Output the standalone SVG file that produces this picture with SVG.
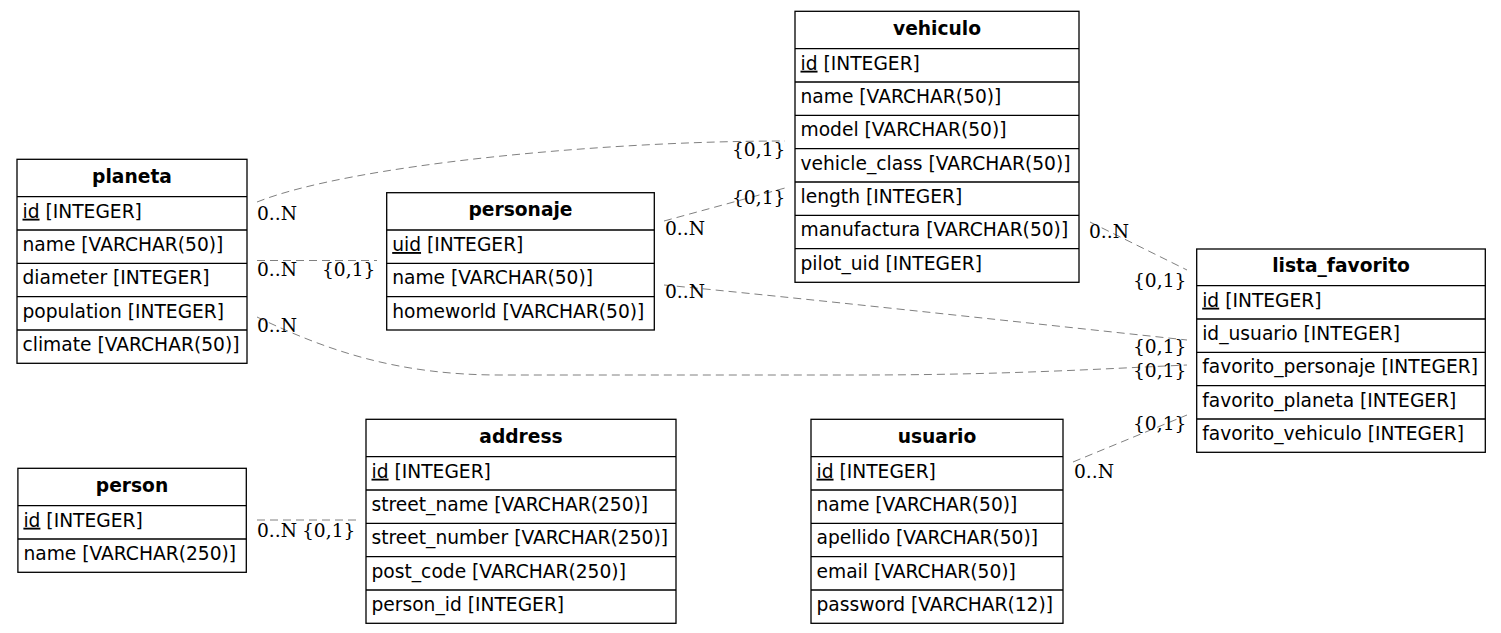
<svg xmlns="http://www.w3.org/2000/svg" width="1501" height="633" viewBox="0 0 1501 633">
<style>
.box{fill:#fff;stroke:#000;stroke-width:1.3}
.sep{stroke:#000;stroke-width:1.3}
.t{font-family:"DejaVu Sans",sans-serif;font-size:18.67px;fill:#000}
.h{font-weight:bold;text-anchor:middle}
.pk{text-decoration:underline}
.e{fill:none;stroke:#808080;stroke-width:1;stroke-dasharray:8,5}
.l{font-family:"DejaVu Serif",serif;font-size:18.67px;fill:#000}
</style>
<rect width="1501" height="633" fill="#fff"/>
<g id="connectors">
<path class="e" d="M257,202 C350,165 600,141 785,141"/>
<path class="e" d="M257,260.5 L377,260.5"/>
<path class="e" d="M257,317 C330,352 400,375 500,375 L860,375 C1000,375 1100,369 1187,365"/>
<path class="e" d="M664,221 L785,188"/>
<path class="e" d="M664,285 C800,298 1000,320 1187,340"/>
<path class="e" d="M1090,222 L1187,270"/>
<path class="e" d="M1073,462 L1187,415"/>
<path class="e" d="M257,520 L356,520"/>
<text class="l" x="257" y="220">0..N</text>
<text class="l" x="732" y="156">{0,1}</text>
<text class="l" x="257" y="276">0..N</text>
<text class="l" x="322" y="276">{0,1}</text>
<text class="l" x="257" y="331.5">0..N</text>
<text class="l" x="1133" y="377">{0,1}</text>
<text class="l" x="665" y="235">0..N</text>
<text class="l" x="732" y="204">{0,1}</text>
<text class="l" x="665" y="297.5">0..N</text>
<text class="l" x="1133" y="353">{0,1}</text>
<text class="l" x="1089" y="238">0..N</text>
<text class="l" x="1133" y="287">{0,1}</text>
<text class="l" x="1074" y="478">0..N</text>
<text class="l" x="1133" y="430">{0,1}</text>
<text class="l" x="257" y="536.5">0..N</text>
<text class="l" x="302" y="536.5">{0,1}</text>
</g>
<g id="planeta">
<rect class="box" x="17" y="159.3" width="230" height="204"/>
<path class="sep" d="M17,196.7H247M17,230H247M17,263.3H247M17,296.7H247M17,330H247"/>
<text class="t h" x="132" y="182.7">planeta</text>
<text class="t" x="22.5" y="217.7"><tspan class="pk">id</tspan> [INTEGER]</text>
<text class="t" x="22.5" y="251">name [VARCHAR(50)]</text>
<text class="t" x="22.5" y="284.3">diameter [INTEGER]</text>
<text class="t" x="22.5" y="317.7">population [INTEGER]</text>
<text class="t" x="22.5" y="351">climate [VARCHAR(50)]</text>
</g>
<g id="personaje">
<rect class="box" x="386.7" y="192.7" width="267.6" height="137.3"/>
<path class="sep" d="M386.7,230H654.3M386.7,263.3H654.3M386.7,296.7H654.3"/>
<text class="t h" x="520.5" y="216">personaje</text>
<text class="t" x="392.2" y="251"><tspan class="pk">uid</tspan> [INTEGER]</text>
<text class="t" x="392.2" y="284.3">name [VARCHAR(50)]</text>
<text class="t" x="392.2" y="317.7">homeworld [VARCHAR(50)]</text>
</g>
<g id="vehiculo">
<rect class="box" x="795" y="11.3" width="284" height="271"/>
<path class="sep" d="M795,48.7H1079M795,82H1079M795,115.3H1079M795,148.7H1079M795,182H1079M795,215.3H1079M795,248.7H1079"/>
<text class="t h" x="937" y="34.7">vehiculo</text>
<text class="t" x="800.5" y="69.7"><tspan class="pk">id</tspan> [INTEGER]</text>
<text class="t" x="800.5" y="103">name [VARCHAR(50)]</text>
<text class="t" x="800.5" y="136.3">model [VARCHAR(50)]</text>
<text class="t" x="800.5" y="169.7">vehicle_class [VARCHAR(50)]</text>
<text class="t" x="800.5" y="203">length [INTEGER]</text>
<text class="t" x="800.5" y="236.3">manufactura [VARCHAR(50)]</text>
<text class="t" x="800.5" y="269.7">pilot_uid [INTEGER]</text>
</g>
<g id="lista_favorito">
<rect class="box" x="1196.7" y="249" width="288.6" height="203.3"/>
<path class="sep" d="M1196.7,285.7H1485.3M1196.7,319H1485.3M1196.7,352.3H1485.3M1196.7,385.7H1485.3M1196.7,419H1485.3"/>
<text class="t h" x="1341" y="272.3">lista_favorito</text>
<text class="t" x="1202.2" y="306.7"><tspan class="pk">id</tspan> [INTEGER]</text>
<text class="t" x="1202.2" y="340">id_usuario [INTEGER]</text>
<text class="t" x="1202.2" y="373.3">favorito_personaje [INTEGER]</text>
<text class="t" x="1202.2" y="406.7">favorito_planeta [INTEGER]</text>
<text class="t" x="1202.2" y="440">favorito_vehiculo [INTEGER]</text>
</g>
<g id="person">
<rect class="box" x="17.9" y="468.3" width="228.4" height="104"/>
<path class="sep" d="M17.9,505.7H246.3M17.9,539H246.3"/>
<text class="t h" x="132" y="491.7">person</text>
<text class="t" x="23.4" y="526.7"><tspan class="pk">id</tspan> [INTEGER]</text>
<text class="t" x="23.4" y="560">name [VARCHAR(250)]</text>
</g>
<g id="address">
<rect class="box" x="366" y="419.3" width="310" height="204"/>
<path class="sep" d="M366,456.7H676M366,490H676M366,523.3H676M366,556.7H676M366,590H676"/>
<text class="t h" x="521" y="442.7">address</text>
<text class="t" x="371.5" y="477.7"><tspan class="pk">id</tspan> [INTEGER]</text>
<text class="t" x="371.5" y="511">street_name [VARCHAR(250)]</text>
<text class="t" x="371.5" y="544.3">street_number [VARCHAR(250)]</text>
<text class="t" x="371.5" y="577.7">post_code [VARCHAR(250)]</text>
<text class="t" x="371.5" y="611">person_id [INTEGER]</text>
</g>
<g id="usuario">
<rect class="box" x="811" y="419.3" width="252" height="204"/>
<path class="sep" d="M811,456.7H1063M811,490H1063M811,523.3H1063M811,556.7H1063M811,590H1063"/>
<text class="t h" x="937" y="442.7">usuario</text>
<text class="t" x="816.5" y="477.7"><tspan class="pk">id</tspan> [INTEGER]</text>
<text class="t" x="816.5" y="511">name [VARCHAR(50)]</text>
<text class="t" x="816.5" y="544.3">apellido [VARCHAR(50)]</text>
<text class="t" x="816.5" y="577.7">email [VARCHAR(50)]</text>
<text class="t" x="816.5" y="611">password [VARCHAR(12)]</text>
</g>
</svg>
